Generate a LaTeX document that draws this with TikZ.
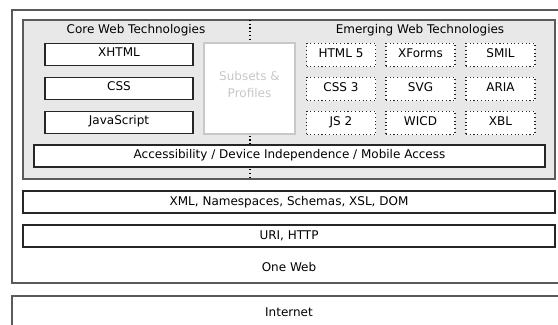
\documentclass[tikz,border=0pt]{standalone}
\usepackage{fontspec}
\setmainfont{DejaVu Sans}
\usetikzlibrary{positioning}

\definecolor{panelgrey}{HTML}{E8E8E8}
\definecolor{framegrey}{HTML}{5A5A5A}
\definecolor{palegrey}{HTML}{C8C8C8}

\begin{document}
\begin{tikzpicture}[x=0.75pt,y=-0.75pt,font=\fontsize{9}{10}\selectfont,
  techbox/.style={draw=black!85,fill=white,line width=0.8pt,inner sep=0pt,
    minimum width=111pt,minimum height=16.5pt,text height=7pt,text depth=4pt},
  newbox/.style={draw=black!85,fill=white,dotted,line width=0.8pt,inner sep=0pt,
    minimum width=51.75pt,minimum height=17.6pt,text height=7pt,text depth=4pt},
  layerbox/.style={draw=black!85,fill=white,line width=0.8pt,inner sep=0pt,
    minimum width=399pt,minimum height=16.5pt}]
\useasboundingbox (0,0) rectangle (558,325);
\clip (0,0) rectangle (558,325);
% one web frame and internet
\draw[framegrey,line width=0.8pt] (12,10) rectangle (566,283);
\draw[framegrey,line width=0.8pt] (12,296) rectangle (566,345);
% grey panel with the dotted divider
\draw[framegrey,fill=panelgrey,line width=0.8pt] (23,20) rectangle (555,179);
\draw[dotted,line width=0.8pt] (250,20) -- (250,179);
\node (core) at (136,30) {Core Web Technologies};
\node (emerging) at (420,30) {Emerging Web Technologies};
% core technologies
\node[techbox] (xhtml) at (119,54.5) {XHTML};
\node[techbox] (css) at (119,88.5) {CSS};
\node[techbox] (js) at (119,122.5) {JavaScript};
\node[draw=palegrey,fill=white,line width=0.8pt,minimum width=68.25pt,minimum height=68.25pt,
  text=palegrey,align=center,font=\fontsize{9}{12.75}\selectfont,
  text height=17pt,text depth=3.6pt] (subsets) at (249.5,88.5) {Subsets \&\\Profiles};
% emerging technologies
\node[newbox] (html5) at (341,55) {HTML 5};
\node[newbox] (xforms) at (420.5,55) {XForms};
\node[newbox] (smil) at (500.5,55) {SMIL};
\node[newbox] (css3) at (341,89) {CSS 3};
\node[newbox] (svg) at (420.5,89) {SVG};
\node[newbox] (aria) at (500.5,89) {ARIA};
\node[newbox] (js2) at (341,123) {JS 2};
\node[newbox] (wicd) at (420.5,123) {WICD};
\node[newbox] (xbl) at (500.5,123) {XBL};
\node[techbox,minimum width=383.25pt] (access) at (289.5,156)
  {Accessibility / Device Independence / Mobile Access};
% lower layers
\node[layerbox] (xml) at (289,202) {XML, Namespaces, Schemas, XSL, DOM};
\node[layerbox] (uri) at (289,236) {URI, HTTP};
\node (oneweb) at (289,267) {One Web};
\node (internet) at (289,312) {Internet};
\end{tikzpicture}
\end{document}
